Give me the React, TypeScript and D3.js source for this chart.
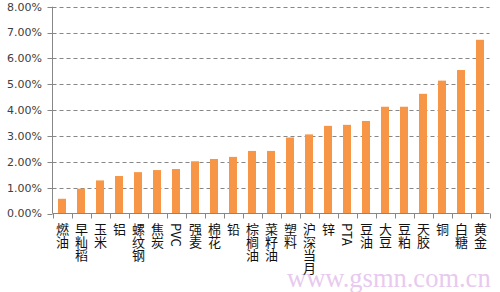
import React from "react";
import * as d3 from "d3";

const categories = ["燃油", "早籼稻", "玉米", "铝", "螺纹钢", "焦炭", "PVC", "强麦", "棉花", "铅", "棕榈油", "菜籽油", "塑料", "沪深当月", "锌", "PTA", "豆油", "大豆", "豆粕", "天胶", "铜", "白糖", "黄金"];
const values = [0.0057, 0.0096, 0.0128, 0.0145, 0.016, 0.0168, 0.0172, 0.0202, 0.0211, 0.0219, 0.0242, 0.0242, 0.0294, 0.0306, 0.0339, 0.0343, 0.0358, 0.0413, 0.0413, 0.0463, 0.0514, 0.0555, 0.0672];
const yTicks = [0, 0.01, 0.02, 0.03, 0.04, 0.05, 0.06, 0.07, 0.08];
const watermark = "www.gsmn.com.cn";

export default function App() {
  const W = 500, H = 292;
  const left = 52.5, right = 489.5, top = 6.7, bottom = 213.5;
  const x = d3.scaleBand<string>().domain(categories).range([left, right]).paddingInner(0.58).paddingOuter(0.29);
  const y = d3.scaleLinear().domain([0, 0.08]).range([bottom, top]);
  const fmt = d3.format(".2%");
  const step = x.step();
  const bounds = d3.range(categories.length + 1).map((i) => left + i * step);
  const axisColor = "#878787";
  return (
    <div style={{ position: "fixed", left: 0, top: 0 }}>
      <svg width={W} height={H} style={{ display: "block", background: "#fff" }}>
        <text x={287} y={287} fontFamily="'Liberation Serif', serif" fontSize={26.5} fill="#e8c9ef">{watermark}</text>
        {yTicks.slice(1).map((t) => (
          <line key={"g" + t} x1={left} x2={right} y1={Math.round(y(t)) + 0.5} y2={Math.round(y(t)) + 0.5} stroke={axisColor} strokeDasharray="4,3" strokeWidth={1} />
        ))}
        {categories.map((c, i) => (
          <rect key={c} x={x(c)} y={y(values[i])} width={x.bandwidth()} height={bottom - y(values[i])} fill="#F79646" />
        ))}
        <line x1={left} x2={left} y1={top} y2={bottom} stroke={axisColor} />
        <line x1={left} x2={right} y1={bottom} y2={bottom} stroke={axisColor} />
        {yTicks.map((t) => (
          <g key={"t" + t}>
            <line x1={left - 5} x2={left} y1={Math.round(y(t)) + 0.5} y2={Math.round(y(t)) + 0.5} stroke={axisColor} />
            <text x={42} y={y(t)} dy="0.35em" textAnchor="end" fontFamily="'DejaVu Sans', Verdana, sans-serif" fontSize={11} fill="#404040">{fmt(t)}</text>
          </g>
        ))}
        {bounds.map((b, i) => (
          <line key={"xb" + i} x1={Math.round(b) + 0.5} x2={Math.round(b) + 0.5} y1={bottom} y2={bottom + 5} stroke={axisColor} />
        ))}
        {categories.map((c) => (
          <text key={"l" + c} x={(x(c) as number) + x.bandwidth() / 2 + 0.5} y={223} fontFamily="'Noto Sans CJK SC', sans-serif" fontSize={13} fill="#111" style={{ writingMode: "vertical-rl" } as any} dominantBaseline="central">{c}</text>
        ))}
      </svg>
    </div>
  );
}
